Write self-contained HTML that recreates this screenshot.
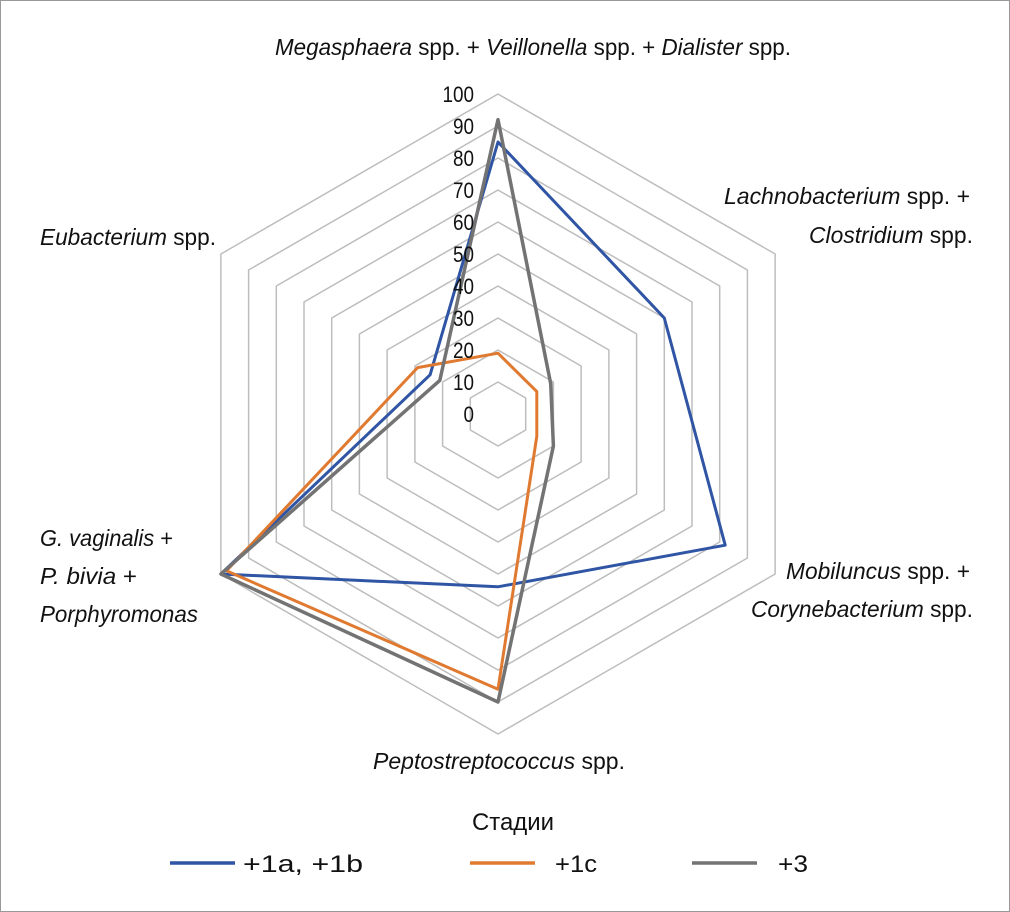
<!DOCTYPE html>
<html><head><meta charset="utf-8"><style>
html,body{margin:0;padding:0;background:#fff}
svg{display:block}
text{font-family:"Liberation Sans Narrow","Liberation Sans",sans-serif;fill:#111}
</style></head><body>
<svg id="s" width="1010" height="912" xmlns="http://www.w3.org/2000/svg">
<rect x="0.5" y="0.5" width="1009" height="911" fill="#fff" stroke="#999"/>
<g id="grid"></g>
<g id="series"></g>
<g font-size="23">
<text x="533" y="55" text-anchor="middle" textLength="516" lengthAdjust="spacingAndGlyphs"><tspan font-style="italic">Megasphaera</tspan> spp. + <tspan font-style="italic">Veillonella</tspan> spp. + <tspan font-style="italic">Dialister</tspan> spp.</text>
<text x="970" y="204" text-anchor="end" textLength="246" lengthAdjust="spacingAndGlyphs"><tspan font-style="italic">Lachnobacterium</tspan> spp. +</text>
<text x="973" y="243" text-anchor="end" textLength="164" lengthAdjust="spacingAndGlyphs"><tspan font-style="italic">Clostridium</tspan> spp.</text>
<text x="970" y="579" text-anchor="end" textLength="184" lengthAdjust="spacingAndGlyphs"><tspan font-style="italic">Mobiluncus</tspan> spp. +</text>
<text x="973" y="617" text-anchor="end" textLength="222" lengthAdjust="spacingAndGlyphs"><tspan font-style="italic">Corynebacterium</tspan> spp.</text>
<text x="499" y="769" text-anchor="middle" textLength="252" lengthAdjust="spacingAndGlyphs"><tspan font-style="italic">Peptostreptococcus</tspan> spp.</text>
<text x="40" y="546" textLength="133" lengthAdjust="spacingAndGlyphs"><tspan font-style="italic">G. vaginalis</tspan> +</text>
<text x="40" y="584" textLength="97" lengthAdjust="spacingAndGlyphs"><tspan font-style="italic">P. bivia</tspan> +</text>
<text x="40" y="622" font-style="italic" textLength="158" lengthAdjust="spacingAndGlyphs">Porphyromonas</text>
<text x="40" y="245" textLength="176" lengthAdjust="spacingAndGlyphs"><tspan font-style="italic">Eubacterium</tspan> spp.</text>
<text x="513" y="830" text-anchor="middle" font-size="24" textLength="82" lengthAdjust="spacingAndGlyphs">Стадии</text>
<text x="243" y="872" font-size="24" textLength="120" lengthAdjust="spacingAndGlyphs">+1a, +1b</text>
<text x="555" y="872" font-size="24" textLength="42" lengthAdjust="spacingAndGlyphs">+1c</text>
<text x="778" y="872" font-size="24" textLength="30" lengthAdjust="spacingAndGlyphs">+3</text>
</g>
<line x1="170" y1="863" x2="235" y2="863" stroke="#2f55a4" stroke-width="3.5"/>
<line x1="470" y1="863" x2="535" y2="863" stroke="#e07a30" stroke-width="3.5"/>
<line x1="692" y1="863" x2="757" y2="863" stroke="#737373" stroke-width="3.5"/>
<g id="ticks" font-size="22" text-anchor="end"></g>
</svg>
<script>
var cx=498,cy=414,k=3.2,NS="http://www.w3.org/2000/svg";
function pt(i,v){var a=(-90+60*i)*Math.PI/180;return (cx+v*k*Math.cos(a)).toFixed(1)+","+(cy+v*k*Math.sin(a)).toFixed(1);}
function poly(vals,col,w,g){var p=document.createElementNS(NS,"polygon");p.setAttribute("points",vals.map(function(v,i){return pt(i,v)}).join(" "));p.setAttribute("fill","none");p.setAttribute("stroke",col);p.setAttribute("stroke-width",w);p.setAttribute("stroke-linejoin","round");document.getElementById(g).appendChild(p);}
for(var l=10;l<=100;l+=10)poly([l,l,l,l,l,l],"#bdbdbd",1.5,"grid");
poly([85,60,82,54,100,24.5],"#2f55a4",3,"series");
poly([19,14,14,86,98,29],"#e07a30",3,"series");
poly([92,19,20,90,100,21],"#737373",3.5,"series");
var t=document.getElementById("ticks");
for(var l=0;l<=100;l+=10){var e=document.createElementNS(NS,"text");e.setAttribute("x",474);e.setAttribute("y",(cy-l*k+8).toFixed(1));var s=String(l);e.setAttribute("textLength",s.length*10.5);e.setAttribute("lengthAdjust","spacingAndGlyphs");e.textContent=s;t.appendChild(e);}
</script>
</body></html>
